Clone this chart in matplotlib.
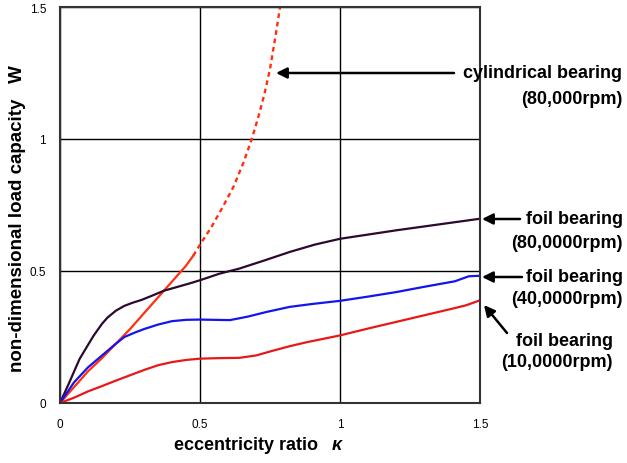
import numpy as np
import matplotlib.pyplot as plt

# eccentricity ratio / load capacity
cyl_x = [0, 0.05, 0.1, 0.15, 0.2, 0.25, 0.3, 0.35, 0.4, 0.45, 0.476]
cyl_y = [0, 0.06, 0.12, 0.17, 0.225, 0.28, 0.34, 0.4, 0.46, 0.52, 0.558]
cyl_dot_x = [0.476, 0.5, 0.54, 0.58, 0.62, 0.655, 0.685, 0.71, 0.73, 0.75, 0.768, 0.786]
cyl_dot_y = [0.558, 0.6, 0.665, 0.74, 0.82, 0.91, 1.0, 1.09, 1.17, 1.265, 1.379, 1.5]

foil80_x = [0, 0.03, 0.07, 0.1, 0.12, 0.15, 0.17, 0.2, 0.23, 0.26, 0.29, 0.33, 0.37, 0.42,
            0.46, 0.5, 0.57, 0.64, 0.73, 0.82, 0.91, 1.0, 1.1, 1.2, 1.35, 1.5]
foil80_y = [0, 0.07, 0.167, 0.22, 0.255, 0.3, 0.324, 0.35, 0.368, 0.38, 0.39, 0.407, 0.425, 0.44,
            0.452, 0.465, 0.49, 0.509, 0.54, 0.572, 0.6, 0.622, 0.638, 0.654, 0.676, 0.698]

foil40_x = [0, 0.05, 0.1, 0.15, 0.2, 0.23, 0.27, 0.3, 0.35, 0.4, 0.45, 0.5, 0.55, 0.607,
            0.67, 0.738, 0.82, 0.9, 1.0, 1.1, 1.2, 1.3, 1.41, 1.46, 1.5]
foil40_y = [0, 0.078, 0.135, 0.18, 0.225, 0.25, 0.268, 0.28, 0.297, 0.31, 0.315, 0.316, 0.315, 0.314,
            0.327, 0.345, 0.364, 0.375, 0.387, 0.403, 0.42, 0.44, 0.461, 0.48, 0.482]

foil10_x = [0, 0.05, 0.1, 0.15, 0.2, 0.25, 0.3, 0.35, 0.4, 0.45, 0.5, 0.57, 0.64, 0.7,
            0.76, 0.82, 0.88, 0.94, 1.0, 1.1, 1.2, 1.3, 1.4, 1.45, 1.5]
foil10_y = [0, 0.02, 0.044, 0.064, 0.085, 0.105, 0.125, 0.143, 0.155, 0.163, 0.168, 0.17, 0.171, 0.18,
            0.198, 0.215, 0.23, 0.243, 0.256, 0.282, 0.307, 0.332, 0.357, 0.37, 0.389]

ticks = [0, 0.5, 1, 1.5]
tick_labels = ['0', '0.5', '1', '1.5']

plt.rcParams['font.family'] = ['Liberation Sans', 'DejaVu Sans']

fig = plt.figure(figsize=(6.27, 4.64), dpi=100)
ax = fig.add_axes([60/627, 60/464, 420/627, 396/464])

ax.plot(cyl_x, cyl_y, color='#ff3010', lw=1.6)
ax.plot(cyl_dot_x, cyl_dot_y, color='#ff3010', lw=1.7, ls=(0, (2.0, 1.6)))
ax.plot(foil80_x, foil80_y, color='#2d0a2d', lw=1.6)
ax.plot(foil40_x, foil40_y, color='#1414ee', lw=1.6)
ax.plot(foil10_x, foil10_y, color='#e81818', lw=1.6)

ax.set_xlim(0, 1.5)
ax.set_ylim(0, 1.5)
ax.set_xticks(ticks)
ax.set_yticks(ticks)
ax.set_xticklabels(tick_labels, fontsize=8.5)
ax.set_yticklabels(tick_labels, fontsize=8.5)
ax.tick_params(axis='x', length=0, pad=11)
ax.tick_params(axis='y', length=0, pad=10)
ax.grid(True, color='black', lw=1)
for s in ax.spines.values():
    s.set_color('#333333')
    s.set_linewidth(1.5)

ax.set_xlabel('eccentricity ratio', fontsize=13, fontweight='bold', va='center')
ax.xaxis.set_label_coords((246.5 - 60) / 420, (404 - 446) / 396)
ax.text((337 - 60) / 420, (404 - 446) / 396, 'κ', transform=ax.transAxes, fontsize=13,
        fontweight='bold', fontstyle='italic', ha='center', va='center')
ax.set_ylabel('non-dimensional load capacity   W', fontsize=13.5, fontweight='bold', va='center')
ax.yaxis.set_label_coords((18 - 60) / 420, (404 - 218.5) / 396)

kw = dict(fontsize=13, fontweight='bold', ha='right', va='center', xycoords='figure pixels')
arrow = dict(arrowstyle='-|>', color='black', lw=1.8, mutation_scale=16, shrinkA=0, shrinkB=0)

def fp(x, y):
    return (x, 464 - y)

ax.annotate('', xy=fp(276, 74), xytext=fp(454, 74), xycoords='figure pixels',
            textcoords='figure pixels', arrowprops=arrow)
ax.annotate('cylindrical bearing', xy=fp(622, 74), **kw)
ax.annotate('(80,000rpm)', xy=fp(622, 100), **kw)

ax.annotate('', xy=fp(482, 220), xytext=fp(520, 220), xycoords='figure pixels',
            textcoords='figure pixels', arrowprops=arrow)
ax.annotate('foil bearing', xy=fp(623, 220), **kw)
ax.annotate('(80,0000rpm)', xy=fp(623, 244), **kw)

ax.annotate('', xy=fp(482, 278), xytext=fp(522, 278), xycoords='figure pixels',
            textcoords='figure pixels', arrowprops=arrow)
ax.annotate('foil bearing', xy=fp(623, 278), **kw)
ax.annotate('(40,0000rpm)', xy=fp(623, 300), **kw)

ax.annotate('', xy=fp(484, 306), xytext=fp(507, 334), xycoords='figure pixels',
            textcoords='figure pixels', arrowprops=arrow)
ax.annotate('foil bearing', xy=fp(613, 342), **kw)
ax.annotate('(10,0000rpm)', xy=fp(613, 363), **kw)

fig.savefig('out.png', dpi=100)
